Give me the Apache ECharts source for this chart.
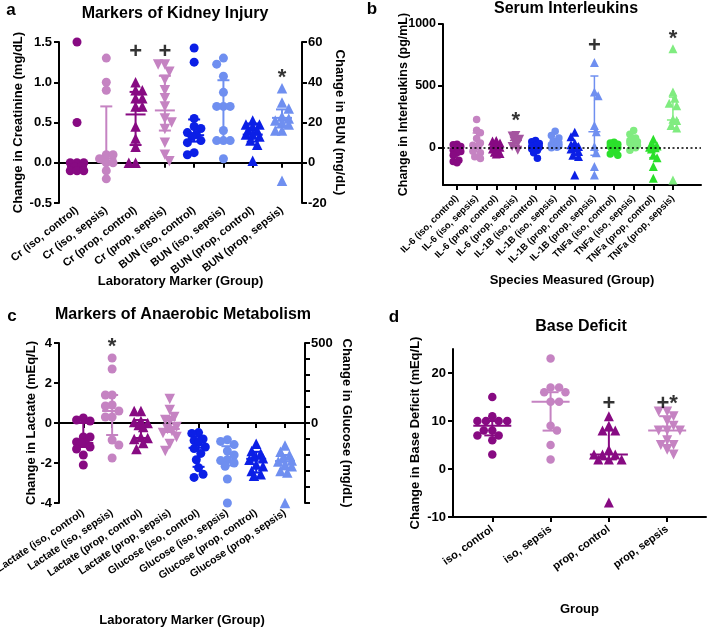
<!DOCTYPE html>
<html><head><meta charset="utf-8">
<script src="https://cdn.jsdelivr.net/npm/echarts@6/dist/echarts.min.js"></script>
<style>html,body{margin:0;padding:0;background:#fff}#c{width:708px;height:630px}</style>
</head><body><div id="c"></div>
<script>
// ---------------- DATA ----------------
// Panel a: Markers of Kidney Injury (Cr on left axis, BUN on right axis)
const catsA = ['Cr (iso, control)','Cr (iso, sepsis)','Cr (prop, control)','Cr (prop, sepsis)','BUN (iso, control)','BUN (iso, sepsis)','BUN (prop, control)','BUN (prop, sepsis)'];
const kidneyPoints = [
  [1.5, 0.5, 0, 0, 0, -0.05, -0.05, -0.1, -0.1, -0.1],
  [1.3, 1.0, 0.9, 0.1, 0.1, 0.05, 0, 0, -0.1, -0.2],
  [1.0, 0.9, 0.9, 0.8, 0.8, 0.7, 0.7, 0.45, 0.3, 0.2, 0, 0],
  [1.22, 1.22, 1.13, 1.03, 0.9, 0.8, 0.7, 0.55, 0.5, 0.42, 0.25, 0.1, 0.02],
  [57, 50, 22, 18, 17, 15, 14, 13, 11, 10, 5, 4],
  [52, 49, 43, 35, 28, 28, 28, 16, 11, 11, 11, 2],
  [21, 19, 19, 18, 16, 16, 14, 14, 13, 11, 9, 1],
  [37, 30, 27, 23, 22, 21, 20, 19, 16, 16, -9]
];
const kidneyMedian = [-0.05, 0.05, 0.6, 0.65, 13.7, 28, 14, 22.3];
const kidneyQ1 = [-0.1, 0, 0.22, 0.4, 10.5, 11, 10.5, 17.5];
const kidneyQ3 = [0, 0.7, 0.88, 1.08, 21.5, 41, 19.5, 26.5];
const kidneyMarks = ['', '', '+', '+', '', '', '', '*'];
const kidneyMarkAt = [null, null, 1.38, 1.38, null, null, null, 42];

// Panel b: Serum Interleukins
const catsB = ['IL-6 (iso, control)','IL-6 (iso, sepsis)','IL-6 (prop, control)','IL-6 (prop, sepsis)','IL-1B (iso, control)','IL-1B (iso, sepsis)','IL-1B (prop, control)','IL-1B (prop, sepsis)','TNFa (iso, control)','TNFa (iso, sepsis)','TNFa (prop, control)','TNFa (prop, sepsis)'];
const interleukinPoints = [
  [30, 25, 10, 0, -20, -30, -40, -60, -100, -110, -120],
  [228, 142, 121, 75, 40, 21, 10, -27, -40, -72, -86],
  [60, 55, 40, 30, 20, 5, 0, -10, -20, -35, -45, -50],
  [100, 95, 70, 55, 40, 10, -20],
  [60, 50, 35, 20, 10, 5, 0, -10, -20, -40, -85],
  [135, 100, 80, 55, 40, 30, 25, 15, 10, 5, 0],
  [125, 90, 40, 25, 10, 0, -10, -30, -60, -70, -220],
  [690, 450, 420, 180, 130, 10, -40, -150, -220],
  [45, 40, 30, 20, 15, 10, 5, 0, -15, -30, -50, -60],
  [140, 110, 80, 60, 50, 45, 40, 20, 10, 0, -20],
  [70, 20, 15, 10, 5, 0, -10, -60, -80, -150, -245],
  [800, 450, 400, 360, 340, 230, 220, 180, 160, -260]
];
const interleukinMedian = [-30, 25, 0, 60, 5, 30, 0, 130, 10, 45, 0, 225];
const interleukinQ1 = [-95, -30, -35, 20, -40, 10, -55, -60, -30, 10, -80, 160];
const interleukinQ3 = [20, 120, 30, 90, 30, 60, 30, 580, 30, 80, 15, 410];
const interleukinMarks = ['', '', '', '*', '', '', '', '+', '', '', '', '*'];
const interleukinMarkAt = [null, null, null, 220, null, null, null, 820, null, null, null, 880];

// Panel c: Markers of Anaerobic Metabolism (Lactate left, Glucose right)
const catsC = ['Lactate (iso, control)','Lactate (iso, sepsis)','Lactate (prop, control)','Lactate (prop, sepsis)','Glucose (iso, control)','Glucose (iso, sepsis)','Glucose (prop, control)','Glucose (prop, sepsis)'];
const anaerobicPoints = [
  [0.25, 0.15, 0.1, -0.7, -0.7, -0.95, -1.0, -1.0, -1.2, -1.3, -1.6, -2.1],
  [3.25, 2.7, 1.4, 1.4, 0.9, 0.85, 0.6, 0.3, 0.3, -0.85, -1.1, -1.75],
  [0.6, 0.6, 0.1, 0.05, 0, -0.1, -0.2, -0.7, -0.75, -0.8, -1.0, -1.3],
  [1.2, 0.65, 0.3, 0.15, 0.1, -0.2, -0.3, -0.4, -0.5, -0.7, -1.05, -1.4],
  [-60, -65, -100, -110, -120, -150, -160, -190, -230, -280, -320, -340],
  [-105, -115, -135, -175, -200, -230, -235, -250, -270, -350, -500],
  [-130, -175, -190, -210, -220, -230, -260, -270, -300, -320, -330],
  [-140, -180, -200, -220, -235, -240, -260, -270, -300, -310, -500]
];
const anaerobicMedian = [-1.0, 0.6, -0.1, -0.3, -155, -234, -224, -238];
const anaerobicQ1 = [-1.2, -0.6, -0.75, -0.45, -274, -265, -310, -290];
const anaerobicQ3 = [0, 1.4, 0.15, 0.15, -85, -145, -180, -200];
const anaerobicMarks = ['', '*', '', '', '', '', '', ''];
const anaerobicMarkAt = [null, 3.8, null, null, null, null, null, null];

// Panel d: Base Deficit
const catsD = ['iso, control','iso, sepsis','prop, control','prop, sepsis'];
const baseDeficitPoints = [
  [15, 11, 10, 10, 10, 10, 8, 8, 7, 7, 6, 3],
  [23, 17, 17, 16, 16, 14, 14, 9, 8, 5, 2],
  [11, 9, 8, 8, 4, 3, 3, 3, 2, 2, 2, -7],
  [12, 12, 11, 10, 9, 8, 8, 8, 6, 5, 5, 4, 3]
];
const baseDeficitMedian = [9, 14, 3, 8];
const baseDeficitQ1 = [7, 8, 2, 5];
const baseDeficitQ3 = [10, 16, 8, 11];
const baseDeficitMarks = ['', '', '+', '+*'];
const baseDeficitMarkAt = [null, null, 13.6, 13.6];

// ---------------- STYLE / LAYOUT ----------------
const FONT = '"Liberation Sans", Arial, sans-serif';
const DP = '#870a82', LP = '#c583c2', MP = '#a4549f', BL = '#0b1fe6', LB = '#6f8ff0', GR = '#2be02b', LG = '#80ec80';
const lab = (size, extra) => Object.assign({color: '#000', fontWeight: 'bold', fontSize: size, fontFamily: FONT}, extra || {});
const AX = {color: '#000', width: 2};

const GRIDS = [
  {left: 59, top: 42, width: 243, height: 161},
  {left: 443, top: 24, width: 258, height: 161},
  {left: 59, top: 343, width: 246, height: 160},
  {left: 453, top: 349, width: 253, height: 168}
];
const XR = [[-0.615, 7.683], [-0.713, 12.43], [-0.844, 7.694], [-0.674, 3.666]];
const YR = [[-0.5, 1.5], [-20, 60], [-300, 1000], [-4, 4], [-500, 500], [-10, 25]];

const range = n => Array.from({length: n}, (_, i) => i);

const panels = [
  {cats: catsA, pts: kidneyPoints, med: kidneyMedian, q1: kidneyQ1, q3: kidneyQ3, marks: kidneyMarks, markAt: kidneyMarkAt,
   colors: [DP, LP, DP, LP, BL, LB, BL, LB], symbols: ['circle','circle','triangle','down','circle','circle','triangle','triangle'],
   yIdx: [0,0,0,0,1,1,1,1], xIdx: 0, grid: 0, size: 9, medHalf: 10, capHalf: 6, lw: 2, maxHalf: 8.5},
  {cats: catsB, pts: interleukinPoints, med: interleukinMedian, q1: interleukinQ1, q3: interleukinQ3, marks: interleukinMarks, markAt: interleukinMarkAt,
   colors: [DP, LP, DP, MP, BL, LB, BL, LB, GR, LG, GR, LG], symbols: ['circle','circle','triangle','down','circle','circle','triangle','triangle','circle','circle','triangle','triangle'],
   yIdx: range(12).map(() => 2), xIdx: 2, grid: 1, size: 7.5, medHalf: 6, capHalf: 4, lw: 1.5, maxHalf: 5.6},
  {cats: catsC, pts: anaerobicPoints, med: anaerobicMedian, q1: anaerobicQ1, q3: anaerobicQ3, marks: anaerobicMarks, markAt: anaerobicMarkAt,
   colors: [DP, LP, DP, LP, BL, LB, BL, LB], symbols: ['circle','circle','triangle','down','circle','circle','triangle','triangle'],
   yIdx: [3,3,3,3,4,4,4,4], xIdx: 3, grid: 2, size: 9, medHalf: 10, capHalf: 6, lw: 2, maxHalf: 8.5},
  {cats: catsD, pts: baseDeficitPoints, med: baseDeficitMedian, q1: baseDeficitQ1, q3: baseDeficitQ3, marks: baseDeficitMarks, markAt: baseDeficitMarkAt,
   colors: [DP, LP, DP, LP], symbols: ['circle','circle','triangle','down'],
   yIdx: [5,5,5,5], xIdx: 5, grid: 3, size: 8.5, medHalf: 19, capHalf: 8, lw: 2, maxHalf: 15}
];

// Beeswarm-like horizontal spreading of points (layout only)
function swarmOffsets(values, pxPerY, pxPerX, size, maxHalf) {
  const order = values.map((v, i) => i).sort((a, b) => values[b] - values[a]);
  const placed = [];
  const offs = new Array(values.length).fill(0);
  const step = size / 4;
  const need = size * 0.85;
  order.forEach((i, n) => {
    const y = values[i] * pxPerY;
    const sgn = n % 2 === 0 ? 1 : -1;
    const cands = [0];
    for (let k = 1; k * step <= maxHalf + 1e-9; k++) cands.push(sgn * k * step, -sgn * k * step);
    let best = 0, bestD = -1;
    for (const c of cands) {
      let d = Infinity;
      for (const p of placed) d = Math.min(d, Math.hypot(c - p[0], y - p[1]));
      if (d >= need) { best = c; bestD = d; break; }
      if (d > bestD + 0.01) { bestD = d; best = c; }
    }
    placed.push([best, y]);
    offs[i] = best / pxPerX;
  });
  return offs;
}

function errRender(color, medHalf, capHalf, lw) {
  return function (params, api) {
    const x = api.value(0);
    const pm = api.coord([x, api.value(1)]);
    const pl = api.coord([x, api.value(2)]);
    const ph = api.coord([x, api.value(3)]);
    const st = {stroke: color, lineWidth: lw};
    return {type: 'group', children: [
      {type: 'line', shape: {x1: pm[0], y1: pl[1], x2: pm[0], y2: ph[1]}, style: st},
      {type: 'line', shape: {x1: pm[0] - capHalf, y1: pl[1], x2: pm[0] + capHalf, y2: pl[1]}, style: st},
      {type: 'line', shape: {x1: pm[0] - capHalf, y1: ph[1], x2: pm[0] + capHalf, y2: ph[1]}, style: st},
      {type: 'line', shape: {x1: pm[0] - medHalf, y1: pm[1], x2: pm[0] + medHalf, y2: pm[1]}, style: st}
    ]};
  };
}

const series = [];
const errSeries = [];
const markSeries = [];
panels.forEach((p, pi) => {
  const g = GRIDS[p.grid];
  const pxPerX = g.width / (XR[p.grid][1] - XR[p.grid][0]);
  p.pts.forEach((vals, i) => {
    const yr = YR[p.yIdx[i]];
    const pxPerY = g.height / (yr[1] - yr[0]);
    const offs = swarmOffsets(vals, pxPerY, pxPerX, p.size, p.maxHalf);
    const isTri = p.symbols[i] !== 'circle';
    const s = {
      type: 'scatter', xAxisIndex: p.xIdx, yAxisIndex: p.yIdx[i],
      symbol: p.symbols[i] === 'down' ? 'triangle' : p.symbols[i],
      symbolRotate: p.symbols[i] === 'down' ? 180 : 0,
      symbolSize: isTri ? p.size + 1.5 : p.size,
      itemStyle: {color: p.colors[i], opacity: 1},
      silent: true,
      data: vals.map((v, k) => [i + offs[k], v])
    };
    if (pi === 1 && i === 0) {
      s.markLine = {silent: true, symbol: 'none', label: {show: false},
        lineStyle: {type: [2, 2.5], color: '#000', width: 1.6}, data: [{yAxis: 0}]};
    }
    series.push(s);
    errSeries.push({
      type: 'custom', xAxisIndex: p.xIdx, yAxisIndex: p.yIdx[i], silent: true,
      renderItem: errRender(p.colors[i], p.medHalf, p.capHalf, p.lw),
      encode: {x: 0, y: [1, 2, 3]},
      data: [[i, p.med[i], p.q1[i], p.q3[i]]]
    });
    if (p.marks[i]) {
      markSeries.push({
        type: 'scatter', xAxisIndex: p.xIdx, yAxisIndex: p.yIdx[i], silent: true,
        symbolSize: 1, itemStyle: {color: 'rgba(0,0,0,0)'},
        label: {show: true, position: 'inside', formatter: p.marks[i], color: '#000', fontSize: 22, fontWeight: 'bold', fontFamily: FONT},
        data: [[i, p.markAt[i]]]
      });
    }
  });
});

const catLabel = (cats, size, margin, rot) => ({
  ...lab(size), rotate: rot, margin: margin, customValues: range(cats.length),
  formatter: v => cats[Math.round(v)]
});

const xName = (text, gap) => ({name: text, nameLocation: 'middle', nameGap: gap, nameMoveOverlap: false, nameTextStyle: lab(13)});

const xAxis = [
  // a: labels
  Object.assign({gridIndex: 0, type: 'value', min: XR[0][0], max: XR[0][1], position: 'bottom',
   axisLine: {show: false, onZero: false}, axisTick: {show: false}, splitLine: {show: false},
   axisLabel: catLabel(catsA, 11, 6, 38)}, xName('Laboratory Marker (Group)', 72)),
  // a: zero line
  {gridIndex: 0, type: 'value', min: XR[0][0], max: XR[0][1], position: 'bottom',
   axisLine: {show: true, onZero: true, lineStyle: AX},
   axisTick: {show: true, customValues: range(8), length: 5, lineStyle: AX},
   axisLabel: {show: false}, splitLine: {show: false}},
  // b
  Object.assign({gridIndex: 1, type: 'value', min: XR[1][0], max: XR[1][1], position: 'bottom',
   axisLine: {show: true, onZero: false, lineStyle: AX},
   axisTick: {show: true, customValues: range(12), length: 5, lineStyle: AX},
   axisLabel: catLabel(catsB, 9.5, 12, 45), splitLine: {show: false}}, xName('Species Measured (Group)', 89)),
  // c: labels
  Object.assign({gridIndex: 2, type: 'value', min: XR[2][0], max: XR[2][1], position: 'bottom',
   axisLine: {show: false, onZero: false}, axisTick: {show: false}, splitLine: {show: false},
   axisLabel: catLabel(catsC, 10.5, 9, 34)}, xName('Laboratory Marker (Group)', 111)),
  // c: zero line
  {gridIndex: 2, type: 'value', min: XR[2][0], max: XR[2][1], position: 'bottom',
   axisLine: {show: true, onZero: true, lineStyle: AX},
   axisTick: {show: true, customValues: range(8), length: 5, lineStyle: AX},
   axisLabel: {show: false}, splitLine: {show: false}},
  // d
  Object.assign({gridIndex: 3, type: 'value', min: XR[3][0], max: XR[3][1], position: 'bottom',
   axisLine: {show: true, onZero: false, lineStyle: AX},
   axisTick: {show: true, customValues: range(4), length: 5, lineStyle: AX},
   axisLabel: catLabel(catsD, 11, 11, 36), splitLine: {show: false}}, xName('Group', 86))
];

const yBase = (gi, pos, r) => ({
  gridIndex: gi, type: 'value', position: pos, min: r[0], max: r[1],
  axisLine: {show: true, onZero: false, lineStyle: AX},
  axisTick: {show: true, length: 5, lineStyle: AX}, splitLine: {show: false},
  nameLocation: 'middle', nameMoveOverlap: false, nameTextStyle: lab(13)
});
const plain = v => String(v);

const yAxis = [
  Object.assign(yBase(0, 'left', YR[0]), {interval: 0.5, axisLabel: {...lab(13), margin: 7, formatter: v => v.toFixed(1)},
    name: 'Change in Creatinine (mg/dL)', nameGap: 34}),
  Object.assign(yBase(0, 'right', YR[1]), {interval: 20, axisLabel: {...lab(13), margin: 6, formatter: plain},
    name: 'Change in BUN (mg/dL)', nameGap: 31, nameRotate: -90}),
  Object.assign(yBase(1, 'left', YR[2]), {
    axisTick: {show: true, length: 5, lineStyle: AX, customValues: [0, 500, 1000]},
    axisLabel: {...lab(12.5), margin: 7, customValues: [0, 500, 1000], formatter: plain},
    name: 'Change in Interleukins (pg/mL)', nameGap: 33, nameTextStyle: lab(12.5)}),
  Object.assign(yBase(2, 'left', YR[3]), {interval: 2, axisLabel: {...lab(13), margin: 7, formatter: plain},
    name: 'Change in Lactate (mEq/L)', nameGap: 21}),
  Object.assign(yBase(2, 'right', YR[4]), {interval: 100, axisLabel: {...lab(13), margin: 6, customValues: [0, 500], formatter: plain},
    name: 'Change in Glucose (mg/dL)', nameGap: 35, nameRotate: -90}),
  Object.assign(yBase(3, 'left', YR[5]), {
    axisTick: {show: true, length: 5, lineStyle: AX, customValues: [-10, 0, 10, 20]},
    axisLabel: {...lab(13), margin: 7, customValues: [-10, 0, 10, 20], formatter: plain},
    name: 'Change in Base Deficit (mEq/L)', nameGap: 31})
];

const txt = (x, y, text, size) => ({type: 'text', x: x, y: y, silent: true,
  style: {text: text, font: 'bold ' + size + 'px ' + FONT, fill: '#000',
    align: 'center', verticalAlign: 'middle', textAlign: 'center', textVerticalAlign: 'middle'}});

const chart = echarts.init(document.getElementById('c'), null, {renderer: 'canvas'});
chart.setOption({
  animation: false,
  backgroundColor: '#fff',
  textStyle: {fontFamily: FONT},
  grid: GRIDS.map(g => Object.assign({containLabel: false, outerBoundsMode: 'none'}, g)),
  xAxis: xAxis,
  yAxis: yAxis,
  graphic: [
    txt(11, 10, 'a', 17), txt(175, 14, 'Markers of Kidney Injury', 16),
    txt(372, 9, 'b', 17), txt(566, 9, 'Serum Interleukins', 16),
    txt(12, 316, 'c', 17), txt(183, 315, 'Markers of Anaerobic Metabolism', 16),
    txt(394, 317, 'd', 17), txt(581, 327, 'Base Deficit', 16)
  ],
  series: series.concat(errSeries, markSeries)
});
</script></body></html>
